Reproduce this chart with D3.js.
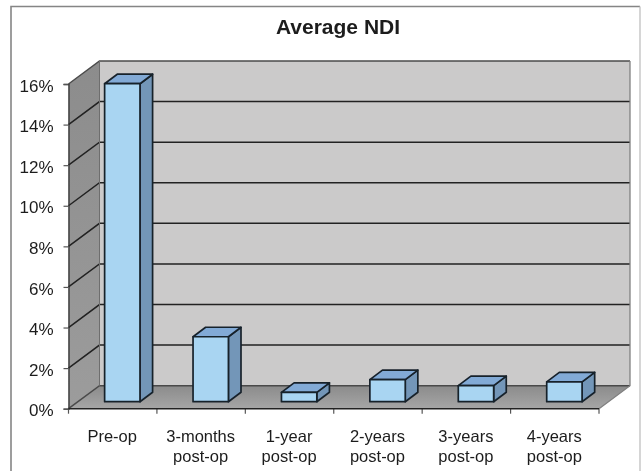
<!DOCTYPE html>
<html><head><meta charset="utf-8">
<script src="https://cdnjs.cloudflare.com/ajax/libs/d3/7.8.5/d3.min.js"></script>
<style>html,body{margin:0;padding:0;background:#fff}svg{display:block}text{font-family:"Liberation Sans",Arial,sans-serif;fill:#1c1c1c}</style>
</head><body><svg id="c" width="641" height="471"></svg>
<script>
const title = "Average NDI";
const categories = ["Pre-op","3-months|post-op","1-year|post-op","2-years|post-op","3-years|post-op","4-years|post-op"];
const values = [15.67,3.2,0.46,1.09,0.79,0.98];
const yTicks = [0,2,4,6,8,10,12,14,16];

const svg = d3.select("#c");
const defs = svg.append("defs");
defs.append("filter").attr("id","soft").append("feGaussianBlur").attr("stdDeviation",0.4);
const g1 = defs.append("linearGradient").attr("id","wall").attr("x1",0).attr("x2",0).attr("y1",0).attr("y2",1);
g1.append("stop").attr("offset",0).attr("stop-color","#8c8c8c");
g1.append("stop").attr("offset",1).attr("stop-color","#9c9c9c");
const g2 = defs.append("linearGradient").attr("id","floor").attr("x1",0).attr("x2",0).attr("y1",0).attr("y2",1);
g2.append("stop").attr("offset",0).attr("stop-color","#8b8b8b");
g2.append("stop").attr("offset",1).attr("stop-color","#a6a6a6");

const plotL=68.5,plotR=599,plotB=408.7,plotT=84,depthX=31,depthY=23;
const x = d3.scaleBand().domain(categories).range([plotL,plotR]).paddingInner(0.6).paddingOuter(0.3);
const y = d3.scaleLinear().domain([0,16]).range([plotB,plotT]);
const root = svg.append("g").attr("filter","url(#soft)");

// chart frame
root.append("path").attr("d","M11,471V6.5H640").attr("fill","none").attr("stroke","#858585").attr("stroke-width",1.6);
root.append("path").attr("d","M640,6.5V471").attr("fill","none").attr("stroke","#c4c4c4").attr("stroke-width",1.4);

const poly=(pts,fill,stroke,sw)=>root.append("path").attr("d",d3.line()(pts)+"Z")
  .attr("fill",fill).attr("stroke",stroke||"none").attr("stroke-width",sw||0).attr("stroke-linejoin","round");

// back wall, side wall, floor
poly([[plotL+depthX,y(16)-depthY],[plotR+depthX,y(16)-depthY],[plotR+depthX,y(0)-depthY],[plotL+depthX,y(0)-depthY]],"#cbcaca");
poly([[plotL,y(16)],[plotL+depthX,y(16)-depthY],[plotL+depthX,y(0)-depthY],[plotL,y(0)]],"url(#wall)");
poly([[plotL,y(0)],[plotR,y(0)],[plotR+depthX,y(0)-depthY],[plotL+depthX,y(0)-depthY]],"url(#floor)");

// gridlines
root.append("g").selectAll("path").data(yTicks).join("path")
  .attr("d",d=>d3.line()([[plotL,y(d)],[plotL+depthX,y(d)-depthY],[plotR+depthX,y(d)-depthY]]))
  .attr("fill","none").attr("stroke",d=>d===0?"#4a4a4a":(d===16?"#4c4c4c":"#222")).attr("stroke-width",1.5);
root.append("path").attr("d",d3.line()([[plotR+depthX,y(16)-depthY],[plotR+depthX,y(0)-depthY],[plotR,y(0)]]))
  .attr("fill","none").attr("stroke","#808080").attr("stroke-width",1.3);
root.append("path").attr("d",d3.line()([[plotL+depthX,y(16)-depthY],[plotL+depthX,y(0)-depthY]]))
  .attr("stroke","#6e6e6e").attr("stroke-width",1);

// axes
const yAxis = d3.axisLeft(y).tickValues(yTicks).tickSize(5).tickPadding(10).tickFormat(d=>d+"%");
const ya = root.append("g").attr("transform",`translate(${plotL},0)`).call(yAxis);
ya.selectAll("text").attr("font-size",17).attr("dy","0.42em");
ya.select(".domain").attr("stroke","#333").attr("stroke-width",1.3);
ya.selectAll(".tick line").attr("stroke","#555").attr("stroke-width",1.2);

const xTickPos = d3.range(categories.length+1).map(i=>plotL+i*(plotR-plotL)/categories.length);
root.append("g").selectAll("line").data(xTickPos).join("line")
  .attr("x1",d=>d).attr("x2",d=>d).attr("y1",plotB).attr("y2",plotB+5).attr("stroke","#555").attr("stroke-width",1.2);
root.append("line").attr("x1",plotL).attr("x2",plotR).attr("y1",plotB).attr("y2",plotB).attr("stroke","#222").attr("stroke-width",1.5);

// bars
const fShiftX=9.6,fShiftY=7,bDX=12.6,bDY=9.5;
const bars = root.append("g").selectAll("g").data(categories).join("g");
const barPts = (c,i)=>{
  const x0=x(c)+fShiftX,x1=x0+x.bandwidth(),yb=y(0)-fShiftY,yt=yb-(y(0)-y(values[i]));
  return {x0,x1,yb,yt};
};
bars.append("path").attr("d",(c,i)=>{const p=barPts(c,i);return d3.line()([[p.x1,p.yb],[p.x1+bDX,p.yb-bDY],[p.x1+bDX,p.yt-bDY],[p.x1,p.yt]])+"Z"})
  .attr("fill","#7396b8");
bars.append("path").attr("d",(c,i)=>{const p=barPts(c,i);return d3.line()([[p.x0,p.yt],[p.x0+bDX,p.yt-bDY],[p.x1+bDX,p.yt-bDY],[p.x1,p.yt]])+"Z"})
  .attr("fill","#82aad6");
bars.append("path").attr("d",(c,i)=>{const p=barPts(c,i);return d3.line()([[p.x0,p.yb],[p.x1,p.yb],[p.x1,p.yt],[p.x0,p.yt]])+"Z"})
  .attr("fill","#a9d5f2");
bars.selectAll("path").attr("stroke","#18222c").attr("stroke-width",1.7).attr("stroke-linejoin","round");

// category labels
const labels = root.append("g").selectAll("text").data(categories).join("text")
  .attr("text-anchor","middle").attr("font-size",16.5)
  .attr("transform",c=>`translate(${x(c)+x.bandwidth()/2-0.5},0)`);
labels.selectAll("tspan").data(c=>c.split("|")).join("tspan")
  .attr("x",0).attr("y",(d,i)=>442+i*20).text(d=>d);

root.append("text").attr("x",338).attr("y",34).attr("text-anchor","middle")
  .attr("font-size",21).attr("font-weight","bold").text(title);
</script></body></html>
